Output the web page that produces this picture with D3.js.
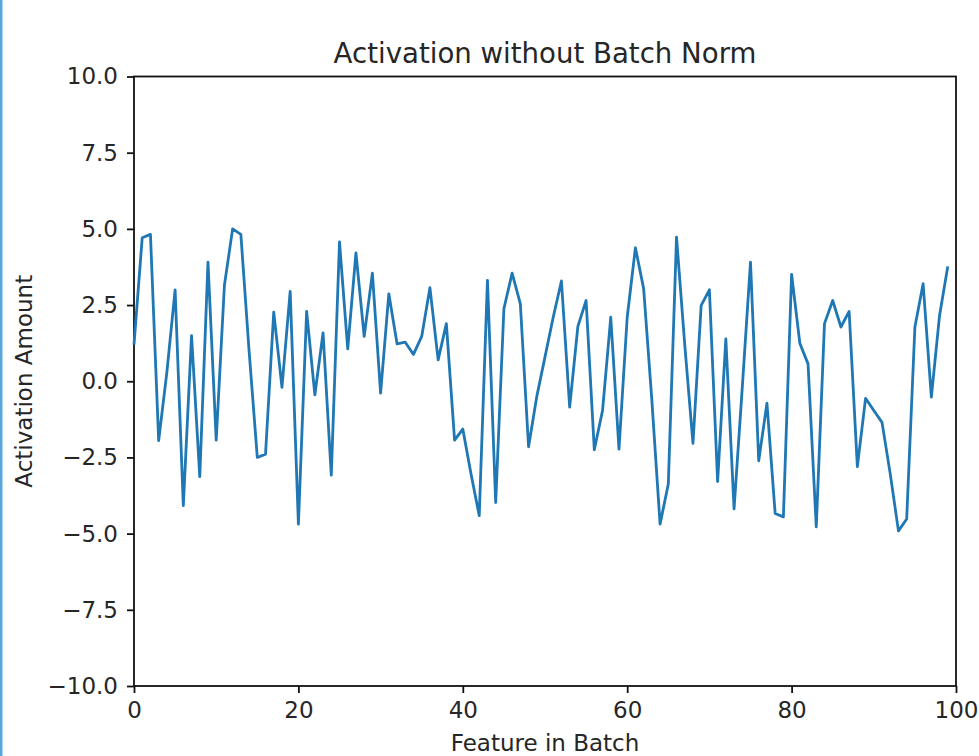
<!DOCTYPE html>
<html>
<head>
<meta charset="utf-8">
<script src="https://cdn.jsdelivr.net/npm/d3@7"></script>
<style>
  html, body { margin: 0; padding: 0; background: #fff; }
  svg text { font-family: "DejaVu Sans", sans-serif; fill: #262626; }
</style>
</head>
<body>
<div id="root"></div>
<script>
// values, one per feature 0..99
let activation = [
  1.2, 4.71, 4.82, -1.95, 0.3, 3.0, -4.08, 1.5, -3.13, 3.91,
  -1.93, 3.15, 5.0, 4.82, 1.0, -2.5, -2.39, 2.27, -0.2, 2.95,
  -4.69, 2.29, -0.45, 1.59, -3.08, 4.57, 1.06, 4.21, 1.47, 3.55,
  -0.39, 2.87, 1.23, 1.28, 0.88, 1.47, 3.07, 0.7, 1.89, -1.93,
  -1.57, -3.04, -4.41, 3.31, -3.98, 2.38, 3.55, 2.54, -2.15, -0.5,
  0.8, 2.1, 3.29, -0.85, 1.8, 2.65, -2.25, -0.96, 2.1, -2.23,
  2.1, 4.38, 3.04, -0.63, -4.69, -3.37, 4.73, 1.2, -2.04, 2.49,
  3.0, -3.29, 1.39, -4.19, -0.2, 3.91, -2.61, -0.72, -4.34, -4.45,
  3.51, 1.25, 0.57, -4.78, 1.89, 2.65, 1.78, 2.29, -2.8, -0.56,
  -0.96, -1.35, -3.04, -4.91, -4.52, 1.78, 3.2, -0.52, 2.16, 3.77
]
let xTicks = [0, 20, 40, 60, 80, 100]
let yTicks = [-10, -7.5, -5, -2.5, 0, 2.5, 5, 7.5, 10]
let title = 'Activation without Batch Norm'
let xLabel = 'Feature in Batch'
let yLabel = 'Activation Amount'

let W = 979, H = 756
let m = {left: 134, right: 956, top: 76.5, bottom: 686}

document.getElementById('root').innerHTML += `
<svg width=${W} height=${H}></svg>
`
let svg = d3.select('svg')

// thin blue frame edge on the far left of the screenshot
svg.append('rect')
   .attr('x', 0).attr('y', 0)
   .attr('width', 2.5).attr('height', H)
   .attr('fill', '#5aa7dc')

let x = d3.scaleLinear().domain([0, 100]).range([m.left, m.right])
let y = d3.scaleLinear().domain([-10, 10]).range([m.bottom, m.top])

let fmtY = d => d3.format('.1f')(d).replace('-', '\u2212')

let xAxis = svg.append('g')
   .attr('transform', `translate(0, ${m.bottom})`)
   .call(d3.axisBottom(x).tickValues(xTicks).tickSize(7).tickPadding(9).tickFormat(d3.format('d')))
let yAxis = svg.append('g')
   .attr('transform', `translate(${m.left}, 0)`)
   .call(d3.axisLeft(y).tickValues(yTicks).tickSize(7).tickPadding(9).tickFormat(fmtY))

for (let ax of [xAxis, yAxis]) {
  ax.select('.domain').remove()
  ax.selectAll('line').attr('stroke', '#111').attr('stroke-width', 1.8)
  ax.selectAll('text').attr('font-size', 23).attr('fill', '#262626')
}

// frame (spines)
svg.append('rect')
   .attr('x', m.left).attr('y', m.top)
   .attr('width', m.right - m.left).attr('height', m.bottom - m.top)
   .attr('fill', 'none')
   .attr('stroke', '#111').attr('stroke-width', 1.8)

let line = d3.line()
  .x((d, i) => x(i))
  .y(d => y(d))

svg.append('path')
   .datum(activation)
   .attr('d', line)
   .attr('fill', 'none')
   .attr('stroke', '#1f77b4')
   .attr('stroke-width', 2.8)
   .attr('stroke-linejoin', 'round')

svg.append('text')
   .attr('x', (m.left + m.right) / 2).attr('y', 63)
   .attr('text-anchor', 'middle')
   .attr('font-size', 27.6)
   .text(title)

svg.append('text')
   .attr('x', (m.left + m.right) / 2).attr('y', 751)
   .attr('text-anchor', 'middle')
   .attr('font-size', 23)
   .text(xLabel)

svg.append('text')
   .attr('transform', `translate(32, ${(m.top + m.bottom) / 2}) rotate(-90)`)
   .attr('text-anchor', 'middle')
   .attr('font-size', 23)
   .text(yLabel)
</script>
</body>
</html>
